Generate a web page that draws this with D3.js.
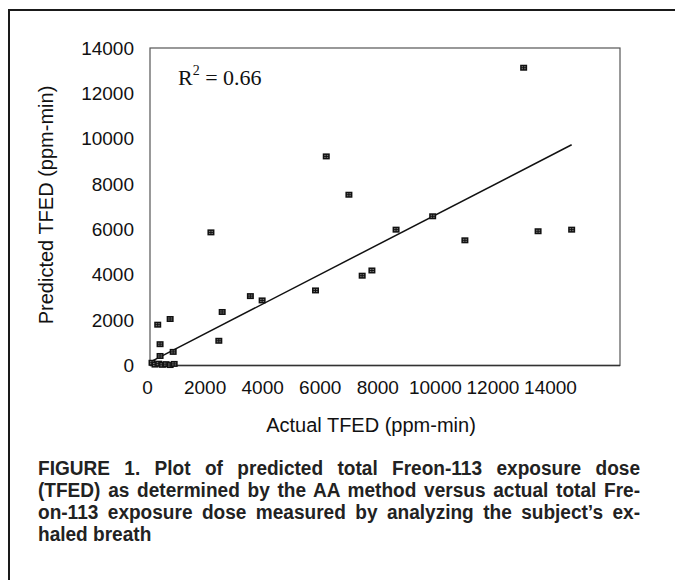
<!DOCTYPE html>
<html>
<head>
<meta charset="utf-8">
<script src="https://cdn.jsdelivr.net/npm/d3@7"></script>
<style>
  body { margin: 0; background: #fff; }
  svg { display: block; }
</style>
</head>
<body>
<script>
const width = 675;
const height = 580;

// actual TFED vs predicted TFED (ppm-min)
const actual = [60, 150, 260, 370, 480, 600, 720, 230, 600, 300, 300, 690,
  1815, 2150, 2050, 2990, 3340, 4930, 5250, 5925, 6320, 6610, 7330, 8420, 9380, 11130, 11560, 12560];
const predicted = [120, 40, 80, 30, 60, 20, 70, 1800, 2050, 940, 420, 600,
  5870, 2360, 1090, 3060, 2870, 3310, 9220, 7530, 3960, 4190, 5990, 6580, 5520, 13130, 5920, 5990];
const ticks = [0, 2000, 4000, 6000, 8000, 10000, 12000, 14000];
const trendSlope = 0.763;
const trendIntercept = 150;
const rSquared = "0.66";
const caption = [
  "FIGURE 1. Plot of predicted total Freon-113 exposure dose",
  "(TFED) as determined by the AA method versus actual total Fre-",
  "on-113 exposure dose measured by analyzing the subject\u2019s ex-",
  "haled breath"
];

const points = actual.map((a, i) => ({a, p: predicted[i]}));

const x = d3.scaleLinear().domain([0, 14000]).range([150, 620]);
// the printed x tick labels sit tighter than the plot area
const xLabel = d3.scaleLinear().domain([0, 14000]).range([147, 550]);
const y = d3.scaleLinear().domain([0, 14000]).range([365.5, 48]);

const svg = d3.select("body").append("svg")
    .attr("width", width)
    .attr("height", height);

// page border (left and top only)
svg.append("path")
    .attr("d", `M9,580V10H675`)
    .attr("fill", "none")
    .attr("stroke", "#1a1a1a")
    .attr("stroke-width", 2);

// plot frame
svg.append("rect")
    .attr("x", x(0))
    .attr("y", y(14000))
    .attr("width", x(14000) - x(0))
    .attr("height", y(0) - y(14000))
    .attr("fill", "none")
    .attr("stroke", "#555")
    .attr("stroke-width", 1.2);
svg.append("line")
    .attr("x1", x(0)).attr("x2", x(14000))
    .attr("y1", y(0)).attr("y2", y(0))
    .attr("stroke", "#333")
    .attr("stroke-width", 1.6);

const tickFont = g => g.selectAll("text")
    .attr("font-family", "'Liberation Sans', Arial, sans-serif")
    .attr("font-size", 19)
    .attr("fill", "#111");

// y axis labels
svg.append("g")
    .attr("transform", `translate(${x(0) - 16},0)`)
    .call(d3.axisLeft(y).tickValues(ticks).tickSize(0).tickPadding(0).tickFormat(d3.format("d")))
    .call(g => g.select(".domain").remove())
    .call(tickFont);

// x axis labels
svg.append("g")
    .attr("transform", `translate(0,${y(0) + 15})`)
    .call(d3.axisBottom(xLabel).tickValues(ticks).tickSize(0).tickPadding(0).tickFormat(d3.format("d")))
    .call(g => g.select(".domain").remove())
    .call(tickFont);

// axis titles
svg.append("text")
    .attr("x", 371)
    .attr("y", 432)
    .attr("text-anchor", "middle")
    .attr("font-family", "'Liberation Sans', Arial, sans-serif")
    .attr("font-size", 20)
    .attr("fill", "#111")
    .text("Actual TFED (ppm-min)");

svg.append("text")
    .attr("transform", "translate(53,205) rotate(-90)")
    .attr("text-anchor", "middle")
    .attr("font-family", "'Liberation Sans', Arial, sans-serif")
    .attr("font-size", 20)
    .attr("fill", "#111")
    .text("Predicted TFED (ppm-min)");

// trend line over the data range
const xMax = d3.max(actual);
svg.append("line")
    .attr("x1", x(0)).attr("y1", y(trendIntercept))
    .attr("x2", x(xMax)).attr("y2", y(trendSlope * xMax + trendIntercept))
    .attr("stroke", "#111")
    .attr("stroke-width", 1.5);

// markers
const mark = svg.append("g")
  .selectAll("g")
  .data(points)
  .join("g")
    .attr("transform", d => `translate(${x(d.a)},${y(d.p)})`);
mark.append("rect")
    .attr("x", -3.5).attr("y", -3)
    .attr("width", 7).attr("height", 6)
    .attr("fill", "#111");
mark.append("path")
    .attr("d", "M-2,-1h1.5M0.5,-1h1.5M-2,1h1.5M0.5,1h1.5")
    .attr("stroke", "#999")
    .attr("stroke-width", 0.8);

// R squared
const r2 = svg.append("text")
    .attr("x", 178)
    .attr("y", 85)
    .attr("font-family", "'Liberation Serif', 'Times New Roman', serif")
    .attr("font-size", 22)
    .attr("fill", "#111");
r2.append("tspan").text("R");
r2.append("tspan").attr("font-size", 14).attr("dy", -10).text("2");
r2.append("tspan").attr("dy", 10).text(" = " + rSquared);

// caption, bold narrow and justified
const capLeft = 38, capRight = 640, capScale = 0.93;
const cap = svg.append("g")
    .attr("font-family", "'Liberation Sans', Arial, sans-serif")
    .attr("font-weight", "bold")
    .attr("font-size", 20.5)
    .attr("fill", "#222");
cap.selectAll("text")
  .data(caption)
  .join("text")
    .attr("transform", (d, i) => `translate(${capLeft},${475 + i * 22}) scale(${capScale},1)`)
    .text(d => d)
    .each(function(d, i) {
      if (i === caption.length - 1) return;
      const w = this.getComputedTextLength();
      const gaps = d.split(" ").length - 1;
      const extra = ((capRight - capLeft) / capScale - w) / gaps;
      d3.select(this).attr("word-spacing", extra);
    });
</script>
</body>
</html>
